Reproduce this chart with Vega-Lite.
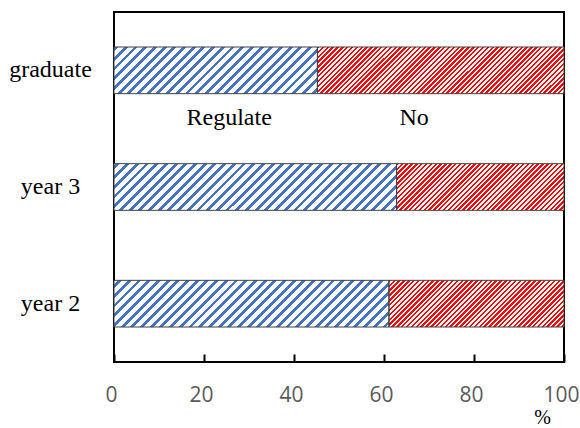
{
  "$schema": "https://vega.github.io/schema/vega-lite/v6.json",
  "width": 450,
  "height": 350,
  "autosize": {"type": "none"},
  "padding": {"left": 114, "top": 12, "right": 16, "bottom": 66},
  "background": "white",
  "config": {"view": {"stroke": "black", "strokeWidth": 2}},
  "data": {"values": [
    {"group": "graduate", "regulate": 45.2, "no": 54.8},
    {"group": "year 3", "regulate": 62.8, "no": 37.2},
    {"group": "year 2", "regulate": 61.1, "no": 38.9}
  ]},
  "encoding": {
    "y": {
      "field": "group", "type": "nominal",
      "scale": {"domain": ["graduate", "year 3", "year 2"], "paddingInner": 0.6, "paddingOuter": 0.3},
      "axis": {"title": null, "domain": false, "ticks": false, "labelFont": "Liberation Serif", "labelFontSize": 24, "labelColor": "black", "labelAlign": "center", "labelPadding": 64}
    }
  },
  "layer": [
    {
      "mark": {"type": "bar", "clip": true, "xOffset": -290, "fill": {"gradient": "linear", "x1": 0, "y1": 0, "x2": 3.26, "y2": 0.525, "stops": [
        {"offset":0,"color":"#4472c4"},{"offset":0.004,"color":"#4472c4"},{"offset":0.004,"color":"#fff"},{"offset":0.01,"color":"#fff"},
        {"offset":0.01,"color":"#4472c4"},{"offset":0.014,"color":"#4472c4"},{"offset":0.014,"color":"#fff"},{"offset":0.02,"color":"#fff"},
        {"offset":0.02,"color":"#4472c4"},{"offset":0.024,"color":"#4472c4"},{"offset":0.024,"color":"#fff"},{"offset":0.03,"color":"#fff"},
        {"offset":0.03,"color":"#4472c4"},{"offset":0.034,"color":"#4472c4"},{"offset":0.034,"color":"#fff"},{"offset":0.04,"color":"#fff"},
        {"offset":0.04,"color":"#4472c4"},{"offset":0.044,"color":"#4472c4"},{"offset":0.044,"color":"#fff"},{"offset":0.05,"color":"#fff"},
        {"offset":0.05,"color":"#4472c4"},{"offset":0.054,"color":"#4472c4"},{"offset":0.054,"color":"#fff"},{"offset":0.06,"color":"#fff"},
        {"offset":0.06,"color":"#4472c4"},{"offset":0.064,"color":"#4472c4"},{"offset":0.064,"color":"#fff"},{"offset":0.07,"color":"#fff"},
        {"offset":0.07,"color":"#4472c4"},{"offset":0.074,"color":"#4472c4"},{"offset":0.074,"color":"#fff"},{"offset":0.08,"color":"#fff"},
        {"offset":0.08,"color":"#4472c4"},{"offset":0.084,"color":"#4472c4"},{"offset":0.084,"color":"#fff"},{"offset":0.09,"color":"#fff"},
        {"offset":0.09,"color":"#4472c4"},{"offset":0.094,"color":"#4472c4"},{"offset":0.094,"color":"#fff"},{"offset":0.1,"color":"#fff"},
        {"offset":0.1,"color":"#4472c4"},{"offset":0.104,"color":"#4472c4"},{"offset":0.104,"color":"#fff"},{"offset":0.11,"color":"#fff"},
        {"offset":0.11,"color":"#4472c4"},{"offset":0.114,"color":"#4472c4"},{"offset":0.114,"color":"#fff"},{"offset":0.12,"color":"#fff"},
        {"offset":0.12,"color":"#4472c4"},{"offset":0.124,"color":"#4472c4"},{"offset":0.124,"color":"#fff"},{"offset":0.13,"color":"#fff"},
        {"offset":0.13,"color":"#4472c4"},{"offset":0.134,"color":"#4472c4"},{"offset":0.134,"color":"#fff"},{"offset":0.14,"color":"#fff"},
        {"offset":0.14,"color":"#4472c4"},{"offset":0.144,"color":"#4472c4"},{"offset":0.144,"color":"#fff"},{"offset":0.15,"color":"#fff"},
        {"offset":0.15,"color":"#4472c4"},{"offset":0.154,"color":"#4472c4"},{"offset":0.154,"color":"#fff"},{"offset":0.16,"color":"#fff"},
        {"offset":0.16,"color":"#4472c4"},{"offset":0.164,"color":"#4472c4"},{"offset":0.164,"color":"#fff"},{"offset":0.17,"color":"#fff"},
        {"offset":0.17,"color":"#4472c4"},{"offset":0.174,"color":"#4472c4"},{"offset":0.174,"color":"#fff"},{"offset":0.18,"color":"#fff"},
        {"offset":0.18,"color":"#4472c4"},{"offset":0.184,"color":"#4472c4"},{"offset":0.184,"color":"#fff"},{"offset":0.19,"color":"#fff"},
        {"offset":0.19,"color":"#4472c4"},{"offset":0.194,"color":"#4472c4"},{"offset":0.194,"color":"#fff"},{"offset":0.2,"color":"#fff"},
        {"offset":0.2,"color":"#4472c4"},{"offset":0.204,"color":"#4472c4"},{"offset":0.204,"color":"#fff"},{"offset":0.21,"color":"#fff"},
        {"offset":0.21,"color":"#4472c4"},{"offset":0.214,"color":"#4472c4"},{"offset":0.214,"color":"#fff"},{"offset":0.22,"color":"#fff"},
        {"offset":0.22,"color":"#4472c4"},{"offset":0.224,"color":"#4472c4"},{"offset":0.224,"color":"#fff"},{"offset":0.23,"color":"#fff"},
        {"offset":0.23,"color":"#4472c4"},{"offset":0.234,"color":"#4472c4"},{"offset":0.234,"color":"#fff"},{"offset":0.24,"color":"#fff"},
        {"offset":0.24,"color":"#4472c4"},{"offset":0.244,"color":"#4472c4"},{"offset":0.244,"color":"#fff"},{"offset":0.25,"color":"#fff"},
        {"offset":0.25,"color":"#4472c4"},{"offset":0.254,"color":"#4472c4"},{"offset":0.254,"color":"#fff"},{"offset":0.26,"color":"#fff"},
        {"offset":0.26,"color":"#4472c4"},{"offset":0.264,"color":"#4472c4"},{"offset":0.264,"color":"#fff"},{"offset":0.27,"color":"#fff"},
        {"offset":0.27,"color":"#4472c4"},{"offset":0.274,"color":"#4472c4"},{"offset":0.274,"color":"#fff"},{"offset":0.28,"color":"#fff"},
        {"offset":0.28,"color":"#4472c4"},{"offset":0.284,"color":"#4472c4"},{"offset":0.284,"color":"#fff"},{"offset":0.29,"color":"#fff"},
        {"offset":0.29,"color":"#4472c4"},{"offset":0.294,"color":"#4472c4"},{"offset":0.294,"color":"#fff"},{"offset":0.3,"color":"#fff"},
        {"offset":0.3,"color":"#4472c4"},{"offset":0.304,"color":"#4472c4"},{"offset":0.304,"color":"#fff"},{"offset":0.31,"color":"#fff"},
        {"offset":0.31,"color":"#4472c4"},{"offset":0.314,"color":"#4472c4"},{"offset":0.314,"color":"#fff"},{"offset":0.32,"color":"#fff"},
        {"offset":0.32,"color":"#4472c4"},{"offset":0.324,"color":"#4472c4"},{"offset":0.324,"color":"#fff"},{"offset":0.33,"color":"#fff"},
        {"offset":0.33,"color":"#4472c4"},{"offset":0.334,"color":"#4472c4"},{"offset":0.334,"color":"#fff"},{"offset":0.34,"color":"#fff"},
        {"offset":0.34,"color":"#4472c4"},{"offset":0.344,"color":"#4472c4"},{"offset":0.344,"color":"#fff"},{"offset":0.35,"color":"#fff"}
      ]}},
      "encoding": {
        "x": {"field": "regulate", "type": "quantitative", "scale": {"domain": [0, 100], "nice": false},
          "axis": {"orient": "bottom", "values": [0, 20, 40, 60, 80, 100], "grid": false, "domain": false, "tickSize": -8, "tickWidth": 2, "tickColor": "black", "labelFlush": false, "labelOverlap": false, "labelOffset": -3, "labelFont": "Open Sans", "labelFontSize": 21, "labelColor": "#595959", "labelPadding": 30, "title": "%", "titleFont": "Liberation Serif", "titleFontSize": 20, "titleFontWeight": "normal", "titleColor": "black", "titleX": 428, "titleY": 61, "titleAlign": "center", "titleBaseline": "alphabetic"}},
        "x2": {"field": "regulate"}
      }
    },
    {
      "mark": {"type": "bar", "clip": true, "x2Offset": 250, "fill": {"gradient": "linear", "x1": 0, "y1": 0, "x2": 1.8747, "y2": 0.35, "stops": [
        {"offset":0,"color":"red"},{"offset":0.005,"color":"red"},{"offset":0.005,"color":"#fff"},{"offset":0.01,"color":"#fff"},
        {"offset":0.01,"color":"red"},{"offset":0.015,"color":"red"},{"offset":0.015,"color":"#fff"},{"offset":0.02,"color":"#fff"},
        {"offset":0.02,"color":"red"},{"offset":0.025,"color":"red"},{"offset":0.025,"color":"#fff"},{"offset":0.03,"color":"#fff"},
        {"offset":0.03,"color":"red"},{"offset":0.035,"color":"red"},{"offset":0.035,"color":"#fff"},{"offset":0.04,"color":"#fff"},
        {"offset":0.04,"color":"red"},{"offset":0.045,"color":"red"},{"offset":0.045,"color":"#fff"},{"offset":0.05,"color":"#fff"},
        {"offset":0.05,"color":"red"},{"offset":0.055,"color":"red"},{"offset":0.055,"color":"#fff"},{"offset":0.06,"color":"#fff"},
        {"offset":0.06,"color":"red"},{"offset":0.065,"color":"red"},{"offset":0.065,"color":"#fff"},{"offset":0.07,"color":"#fff"},
        {"offset":0.07,"color":"red"},{"offset":0.075,"color":"red"},{"offset":0.075,"color":"#fff"},{"offset":0.08,"color":"#fff"},
        {"offset":0.08,"color":"red"},{"offset":0.085,"color":"red"},{"offset":0.085,"color":"#fff"},{"offset":0.09,"color":"#fff"},
        {"offset":0.09,"color":"red"},{"offset":0.095,"color":"red"},{"offset":0.095,"color":"#fff"},{"offset":0.1,"color":"#fff"},
        {"offset":0.1,"color":"red"},{"offset":0.105,"color":"red"},{"offset":0.105,"color":"#fff"},{"offset":0.11,"color":"#fff"},
        {"offset":0.11,"color":"red"},{"offset":0.115,"color":"red"},{"offset":0.115,"color":"#fff"},{"offset":0.12,"color":"#fff"},
        {"offset":0.12,"color":"red"},{"offset":0.125,"color":"red"},{"offset":0.125,"color":"#fff"},{"offset":0.13,"color":"#fff"},
        {"offset":0.13,"color":"red"},{"offset":0.135,"color":"red"},{"offset":0.135,"color":"#fff"},{"offset":0.14,"color":"#fff"},
        {"offset":0.14,"color":"red"},{"offset":0.145,"color":"red"},{"offset":0.145,"color":"#fff"},{"offset":0.15,"color":"#fff"},
        {"offset":0.15,"color":"red"},{"offset":0.155,"color":"red"},{"offset":0.155,"color":"#fff"},{"offset":0.16,"color":"#fff"},
        {"offset":0.16,"color":"red"},{"offset":0.165,"color":"red"},{"offset":0.165,"color":"#fff"},{"offset":0.17,"color":"#fff"},
        {"offset":0.17,"color":"red"},{"offset":0.175,"color":"red"},{"offset":0.175,"color":"#fff"},{"offset":0.18,"color":"#fff"},
        {"offset":0.18,"color":"red"},{"offset":0.185,"color":"red"},{"offset":0.185,"color":"#fff"},{"offset":0.19,"color":"#fff"},
        {"offset":0.19,"color":"red"},{"offset":0.195,"color":"red"},{"offset":0.195,"color":"#fff"},{"offset":0.2,"color":"#fff"},
        {"offset":0.2,"color":"red"},{"offset":0.205,"color":"red"},{"offset":0.205,"color":"#fff"},{"offset":0.21,"color":"#fff"},
        {"offset":0.21,"color":"red"},{"offset":0.215,"color":"red"},{"offset":0.215,"color":"#fff"},{"offset":0.22,"color":"#fff"},
        {"offset":0.22,"color":"red"},{"offset":0.225,"color":"red"},{"offset":0.225,"color":"#fff"},{"offset":0.23,"color":"#fff"},
        {"offset":0.23,"color":"red"},{"offset":0.235,"color":"red"},{"offset":0.235,"color":"#fff"},{"offset":0.24,"color":"#fff"},
        {"offset":0.24,"color":"red"},{"offset":0.245,"color":"red"},{"offset":0.245,"color":"#fff"},{"offset":0.25,"color":"#fff"},
        {"offset":0.25,"color":"red"},{"offset":0.255,"color":"red"},{"offset":0.255,"color":"#fff"},{"offset":0.26,"color":"#fff"},
        {"offset":0.26,"color":"red"},{"offset":0.265,"color":"red"},{"offset":0.265,"color":"#fff"},{"offset":0.27,"color":"#fff"},
        {"offset":0.27,"color":"red"},{"offset":0.275,"color":"red"},{"offset":0.275,"color":"#fff"},{"offset":0.28,"color":"#fff"},
        {"offset":0.28,"color":"red"},{"offset":0.285,"color":"red"},{"offset":0.285,"color":"#fff"},{"offset":0.29,"color":"#fff"},
        {"offset":0.29,"color":"red"},{"offset":0.295,"color":"red"},{"offset":0.295,"color":"#fff"},{"offset":0.3,"color":"#fff"},
        {"offset":0.3,"color":"red"},{"offset":0.305,"color":"red"},{"offset":0.305,"color":"#fff"},{"offset":0.31,"color":"#fff"},
        {"offset":0.31,"color":"red"},{"offset":0.315,"color":"red"},{"offset":0.315,"color":"#fff"},{"offset":0.32,"color":"#fff"},
        {"offset":0.32,"color":"red"},{"offset":0.325,"color":"red"},{"offset":0.325,"color":"#fff"},{"offset":0.33,"color":"#fff"},
        {"offset":0.33,"color":"red"},{"offset":0.335,"color":"red"},{"offset":0.335,"color":"#fff"},{"offset":0.34,"color":"#fff"},
        {"offset":0.34,"color":"red"},{"offset":0.345,"color":"red"},{"offset":0.345,"color":"#fff"},{"offset":0.35,"color":"#fff"},
        {"offset":0.35,"color":"red"},{"offset":0.355,"color":"red"},{"offset":0.355,"color":"#fff"},{"offset":0.36,"color":"#fff"},
        {"offset":0.36,"color":"red"},{"offset":0.365,"color":"red"},{"offset":0.365,"color":"#fff"},{"offset":0.37,"color":"#fff"},
        {"offset":0.37,"color":"red"},{"offset":0.375,"color":"red"},{"offset":0.375,"color":"#fff"},{"offset":0.38,"color":"#fff"},
        {"offset":0.38,"color":"red"},{"offset":0.385,"color":"red"},{"offset":0.385,"color":"#fff"},{"offset":0.39,"color":"#fff"},
        {"offset":0.39,"color":"red"},{"offset":0.395,"color":"red"},{"offset":0.395,"color":"#fff"},{"offset":0.4,"color":"#fff"},
        {"offset":0.4,"color":"red"},{"offset":0.405,"color":"red"},{"offset":0.405,"color":"#fff"},{"offset":0.41,"color":"#fff"},
        {"offset":0.41,"color":"red"},{"offset":0.415,"color":"red"},{"offset":0.415,"color":"#fff"},{"offset":0.42,"color":"#fff"},
        {"offset":0.42,"color":"red"},{"offset":0.425,"color":"red"},{"offset":0.425,"color":"#fff"},{"offset":0.43,"color":"#fff"},
        {"offset":0.43,"color":"red"},{"offset":0.435,"color":"red"},{"offset":0.435,"color":"#fff"},{"offset":0.44,"color":"#fff"},
        {"offset":0.44,"color":"red"},{"offset":0.445,"color":"red"},{"offset":0.445,"color":"#fff"},{"offset":0.45,"color":"#fff"},
        {"offset":0.45,"color":"red"},{"offset":0.455,"color":"red"},{"offset":0.455,"color":"#fff"},{"offset":0.46,"color":"#fff"},
        {"offset":0.46,"color":"red"},{"offset":0.465,"color":"red"},{"offset":0.465,"color":"#fff"},{"offset":0.47,"color":"#fff"},
        {"offset":0.47,"color":"red"},{"offset":0.475,"color":"red"},{"offset":0.475,"color":"#fff"},{"offset":0.48,"color":"#fff"},
        {"offset":0.48,"color":"red"},{"offset":0.485,"color":"red"},{"offset":0.485,"color":"#fff"},{"offset":0.49,"color":"#fff"},
        {"offset":0.49,"color":"red"},{"offset":0.495,"color":"red"},{"offset":0.495,"color":"#fff"},{"offset":0.5,"color":"#fff"},
        {"offset":0.5,"color":"red"},{"offset":0.505,"color":"red"},{"offset":0.505,"color":"#fff"},{"offset":0.51,"color":"#fff"},
        {"offset":0.51,"color":"red"},{"offset":0.515,"color":"red"},{"offset":0.515,"color":"#fff"},{"offset":0.52,"color":"#fff"},
        {"offset":0.52,"color":"red"},{"offset":0.525,"color":"red"},{"offset":0.525,"color":"#fff"},{"offset":0.53,"color":"#fff"},
        {"offset":0.53,"color":"red"},{"offset":0.535,"color":"red"},{"offset":0.535,"color":"#fff"},{"offset":0.54,"color":"#fff"},
        {"offset":0.54,"color":"red"},{"offset":0.545,"color":"red"},{"offset":0.545,"color":"#fff"},{"offset":0.55,"color":"#fff"},
        {"offset":0.55,"color":"red"},{"offset":0.555,"color":"red"},{"offset":0.555,"color":"#fff"},{"offset":0.56,"color":"#fff"},
        {"offset":0.56,"color":"red"},{"offset":0.565,"color":"red"},{"offset":0.565,"color":"#fff"},{"offset":0.57,"color":"#fff"},
        {"offset":0.57,"color":"red"},{"offset":0.575,"color":"red"},{"offset":0.575,"color":"#fff"},{"offset":0.58,"color":"#fff"},
        {"offset":0.58,"color":"red"},{"offset":0.585,"color":"red"},{"offset":0.585,"color":"#fff"},{"offset":0.59,"color":"#fff"},
        {"offset":0.59,"color":"red"},{"offset":0.595,"color":"red"},{"offset":0.595,"color":"#fff"},{"offset":0.6,"color":"#fff"},
        {"offset":0.6,"color":"red"},{"offset":0.605,"color":"red"},{"offset":0.605,"color":"#fff"},{"offset":0.61,"color":"#fff"},
        {"offset":0.61,"color":"red"},{"offset":0.615,"color":"red"},{"offset":0.615,"color":"#fff"},{"offset":0.62,"color":"#fff"}
      ]}},
      "encoding": {
        "x": {"field": "regulate", "type": "quantitative", "scale": {"domain": [0, 100], "nice": false}},
        "x2": {"field": "regulate"}
      }
    },
    {
      "transform": [{"fold": ["regulate", "no"], "as": ["series", "pct"]}],
      "mark": {"type": "bar", "filled": false, "stroke": "#404040", "strokeWidth": 1},
      "encoding": {
        "x": {"field": "pct", "type": "quantitative", "stack": "zero", "scale": {"domain": [0, 100], "nice": false}},
        "detail": {"field": "series", "type": "nominal"},
        "order": {"field": "series", "sort": "descending"}
      }
    },
    {
      "data": {"values": [{"label": "Regulate", "group": "graduate"}]},
      "mark": {"type": "text", "font": "Liberation Serif", "fontSize": 24, "color": "black", "align": "center", "baseline": "alphabetic", "yOffset": 55},
      "encoding": {
        "text": {"field": "label"},
        "x": {"datum": 25.6, "type": "quantitative"}
      }
    },
    {
      "data": {"values": [{"label": "No", "group": "graduate"}]},
      "mark": {"type": "text", "font": "Liberation Serif", "fontSize": 24, "color": "black", "align": "center", "baseline": "alphabetic", "yOffset": 55},
      "encoding": {
        "text": {"field": "label"},
        "x": {"datum": 66.7, "type": "quantitative"}
      }
    }
  ]
}
